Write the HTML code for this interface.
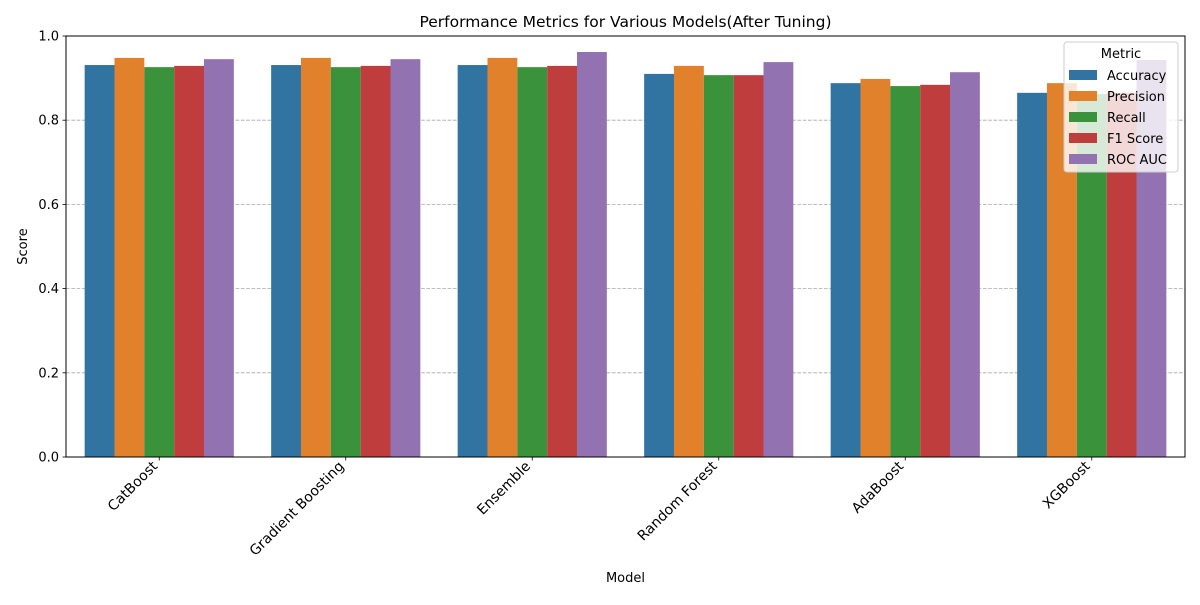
<!DOCTYPE html>
<html><head><meta charset="utf-8"><style>
body{margin:0;background:#fff;font-family:"Liberation Sans","DejaVu Sans",sans-serif}
svg text{font-family:"DejaVu Sans","Liberation Sans",sans-serif}
</style></head><body>
<svg id="chart" width="1200" height="600" xmlns="http://www.w3.org/2000/svg">
<rect width="1200" height="600" fill="#fff"/>
<g id="grid"></g><g id="bars"></g><g id="axes"></g><g id="legend"></g>
</svg>
<script>
const categories=["CatBoost","Gradient Boosting","Ensemble","Random Forest","AdaBoost","XGBoost"];
const metrics=["Accuracy","Precision","Recall","F1 Score","ROC AUC"];
const accuracy=[0.931,0.931,0.931,0.910,0.888,0.865];
const precision=[0.948,0.948,0.948,0.929,0.898,0.888];
const recall=[0.926,0.926,0.926,0.907,0.881,0.862];
const f1=[0.929,0.929,0.929,0.907,0.884,0.865];
const rocauc=[0.945,0.945,0.962,0.938,0.914,0.943];
const yTicks=[0,0.2,0.4,0.6,0.8,1.0];
const yTickLabels=["0.0","0.2","0.4","0.6","0.8","1.0"];
const colors=["#3274a1","#e1812c","#3a923a","#c03d3e","#9372b2"];
const series=[accuracy,precision,recall,f1,rocauc];
const NS="http://www.w3.org/2000/svg";
const L=66,R=1185,T=36,B=457;
const y=v=>B-(B-T)*v;
const step=(R-L)/categories.length;
const xc=i=>L+step*(i+0.5);
const bw=step*0.8/metrics.length;
function mk(tag,attrs,parent){const e=document.createElementNS(NS,tag);for(const k in attrs)e.setAttribute(k,attrs[k]);parent.appendChild(e);return e;}
const grid=document.getElementById('grid'),bars=document.getElementById('bars'),axes=document.getElementById('axes'),leg=document.getElementById('legend');
yTicks.forEach((t,i)=>{
 if(t>0&&t<1){const g=mk('line',{x1:L,x2:R,y1:y(t),y2:y(t),stroke:'#a8a8a8','stroke-dasharray':'3.7,1.6','stroke-width':0.8},grid);
 
 }
 const tk=mk('line',{x1:L-3.5,x2:L,y1:y(t),y2:y(t),stroke:'#000','stroke-width':0.8},axes);
 
 
 const lb=mk('text',{x:L-7,y:y(t)+4.5,'text-anchor':'end','font-size':13},axes);lb.textContent=yTickLabels[i];
 
 
});
series.forEach((s,m)=>{s.forEach((v,i)=>{
 const x0=xc(i)-step*0.4+m*bw;
 const r=mk('rect',{x:x0,y:y(v),width:bw,height:B-y(v),fill:colors[m]},bars);
 
 
});});
categories.forEach((c,i)=>{
 const tk=mk('line',{x1:xc(i),x2:xc(i),y1:B,y2:B+3.5,stroke:'#000','stroke-width':0.8},axes);
 
 
 const ax=xc(i)-1, ay=B+10;
 const t=mk('text',{x:ax,y:ay,'text-anchor':'end','font-size':14,transform:`rotate(-45 ${ax} ${ay})`},axes);t.textContent=c;
 
 
});
const frame=mk('rect',{x:L,y:T,width:R-L,height:B-T,fill:'none',stroke:'#000','stroke-width':1},axes);


const title=mk('text',{x:(L+R)/2,y:27,'text-anchor':'middle','font-size':15.5},axes);title.textContent="Performance Metrics for Various Models(After Tuning)";


const xt=mk('text',{x:(L+R)/2,y:582,'text-anchor':'middle','font-size':13},axes);xt.textContent="Model";


const yt=mk('text',{x:27,y:(T+B)/2,'text-anchor':'middle','font-size':13,transform:`rotate(-90 27 ${(T+B)/2})`},axes);yt.textContent="Score";


const lb=mk('rect',{x:1064,y:42,width:114,height:130,rx:3,fill:'#fff','fill-opacity':0.8,stroke:'#ccc'},leg);


const lt=mk('text',{x:1121,y:58,'text-anchor':'middle','font-size':13},leg);lt.textContent="Metric";


metrics.forEach((m,k)=>{
 const yy=75+k*21;
 const sw=mk('rect',{x:1069,y:yy-5,width:28,height:10,fill:colors[k]},leg);
 
 
 const t=mk('text',{x:1107,y:yy+5,'font-size':13},leg);t.textContent=m;
 
 
});
</script>
</body></html>
